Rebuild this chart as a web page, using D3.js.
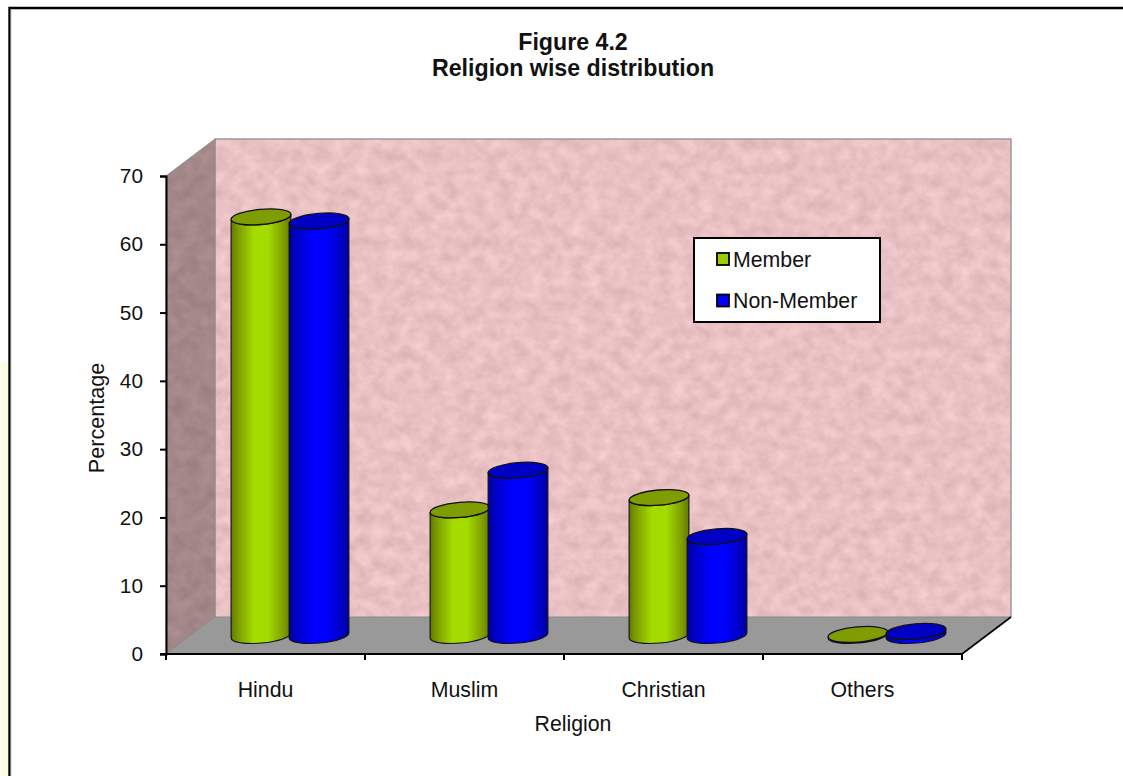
<!DOCTYPE html>
<html><head><meta charset="utf-8">
<script src="https://cdn.jsdelivr.net/npm/d3@7"></script>
<style>html,body{margin:0;padding:0;background:#fff;overflow:hidden}svg{display:block}text{font-family:"Liberation Sans",Arial,sans-serif;fill:#111}</style>
</head><body><svg id="c" width="1123" height="776"></svg>
<script>
const categories = ["Hindu","Muslim","Christian","Others"];
const seriesNames = ["Member","Non-Member"];
const member = [61.3,18.4,20.2,0.15];
const nonMember = [60.7,24.2,14.5,0.6];
const yTicks = [0,10,20,30,40,50,60,70];
const titleLines = ["Figure 4.2","Religion wise distribution"];
const xTitle = "Religion", yTitle = "Percentage";
const lightColors = ["#a4dc00","#0000ff"], darkColors = ["#7f9c00","#0000c4"], edgeColors=["#5f7a00","#00009a"];

const svg = d3.select("#c");
const defs = svg.append("defs");
const x0 = d3.scaleBand().domain(categories).range([166,962]);
const x1 = d3.scaleBand().domain(seriesNames).range([-58,58]);
const y = d3.scaleLinear().domain([0,70]).range([654,176]);
const depth = {dx:49, dy:-37};

// backgrounds
svg.append("rect").attr("x",1).attr("y",362).attr("width",7).attr("height",414).attr("fill","#fffde0");
svg.append("path").attr("d","M9.5,776V8H1123").attr("fill","none").attr("stroke","#000").attr("stroke-width",2.4);
svg.append("path").attr("d","M11,776V9.5H1123").attr("fill","none").attr("stroke","#bbb").attr("stroke-width",0.8);

// texture
const f = defs.append("filter").attr("id","tex").attr("x",0).attr("y",0).attr("width",1).attr("height",1).attr("color-interpolation-filters","sRGB");
f.append("feTurbulence").attr("type","fractalNoise").attr("baseFrequency","0.07 0.08").attr("numOctaves",5).attr("seed",7).attr("result","n");
f.append("feColorMatrix").attr("in","n").attr("type","matrix")
 .attr("values","0.15 0 0 0 0.84  0.15 0 0 0 0.68  0.15 0 0 0 0.69  0 0 0 0 1");
const lg = defs.append("linearGradient").attr("id","side").attr("x1",0).attr("x2",1).attr("y1",0).attr("y2",0);
lg.append("stop").attr("offset",0).attr("stop-color","#000").attr("stop-opacity",0.3);
lg.append("stop").attr("offset",1).attr("stop-color","#000").attr("stop-opacity",0.3);

const left = 166, right = 962;
const p = (a,b)=>`${a},${b}`;
// back wall
svg.append("rect").attr("x",left+depth.dx).attr("y",y(70)+depth.dy).attr("width",right-left).attr("height",y(0)-y(70))
  .attr("filter","url(#tex)");
svg.append("path").attr("d",`M${p(left+depth.dx,y(0)+depth.dy)}V${y(70)+depth.dy}H${right+depth.dx}V${y(0)+depth.dy}`)
  .attr("fill","none").attr("stroke","#9a9a9a").attr("stroke-width",1.5);
// side wall
const sidePts = `M${p(left,y(0))}L${p(left,y(70))}L${p(left+depth.dx,y(70)+depth.dy)}L${p(left+depth.dx,y(0)+depth.dy)}Z`;
svg.append("clipPath").attr("id","sc").append("path").attr("d",sidePts);
svg.append("g").attr("clip-path","url(#sc)").append("rect").attr("x",left-20).attr("y",y(70)+depth.dy).attr("width",depth.dx+20).attr("height",y(0)-y(70)-depth.dy)
  .attr("filter","url(#tex)");
svg.append("path").attr("d",sidePts).attr("fill","url(#side)").attr("stroke","#8f8f8f").attr("stroke-width",1);
// floor
svg.append("path").attr("d",`M${p(left,y(0))}L${p(left+depth.dx,y(0)+depth.dy)}H${right+depth.dx}L${p(right,y(0))}Z`).attr("fill","#999999").attr("stroke","#8a8a8a").attr("stroke-width",1);
svg.append("path").attr("d",`M${p(right,y(0))}L${p(right+depth.dx,y(0)+depth.dy)}`).attr("stroke","#000").attr("stroke-width",1.6);

// cylinder gradients
lightColors.forEach((c,i)=>{
  const g = defs.append("linearGradient").attr("id","cyl"+i);
  [[0,edgeColors[i]],[0.12,darkColors[i]],[0.38,c],[0.62,c],[0.88,darkColors[i]],[1,edgeColors[i]]]
    .forEach(([o,col])=>g.append("stop").attr("offset",o).attr("stop-color",col));
});

// cylinders
const rx = 30, ry = 7.6, tilt = -5;
const tiltRad = tilt*Math.PI/180;
const ex = rx*Math.cos(tiltRad), ey = rx*Math.sin(tiltRad);
const series = [member,nonMember];
categories.forEach((cat,ci)=>{
  series.forEach((vals,si)=>{
    const v = vals[ci];
    const cx = x0(cat)+x0.bandwidth()/2+depth.dx/2+x1(seriesNames[si])+x1.bandwidth()/2;
    const base = y(0)+depth.dy/2, top = y(v)+depth.dy/2;
    const g = svg.append("g");
    g.append("path")
     .attr("d",`M${p(cx-ex,top-ey)}L${p(cx-ex,base-ey)}A${rx},${ry} ${tilt} 0 0 ${p(cx+ex,base+ey)}L${p(cx+ex,top+ey)}A${rx},${ry} ${tilt} 0 1 ${p(cx-ex,top-ey)}Z`)
     .attr("fill",`url(#cyl${si})`).attr("stroke","#111").attr("stroke-width",1.1).attr("stroke-linejoin","round");
    g.append("ellipse").attr("cx",cx).attr("cy",top).attr("rx",rx).attr("ry",ry)
     .attr("transform",`rotate(${tilt} ${cx} ${top})`)
     .attr("fill",darkColors[si]).attr("stroke","#111").attr("stroke-width",1.3);
  });
});

// axes
const yAxis = svg.append("g").attr("transform",`translate(${left},0)`).call(d3.axisLeft(y).tickValues(yTicks).tickSize(6).tickPadding(17).tickFormat(d3.format("d")));
const xTickVals = x0.domain().map(d=>x0(d)).concat([right]);
const xg = svg.append("g");
xg.append("line").attr("x1",left-6).attr("x2",right).attr("y1",y(0)).attr("y2",y(0)).attr("stroke","#000").attr("stroke-width",2);
xg.selectAll(".t").data(xTickVals).join("line").attr("x1",d=>d).attr("x2",d=>d).attr("y1",y(0)).attr("y2",y(0)+6).attr("stroke","#000").attr("stroke-width",2);
xg.selectAll(".l").data(categories).join("text").attr("x",d=>x0(d)+x0.bandwidth()/2).attr("y",697).attr("text-anchor","middle").attr("font-size",21.3).text(d=>d);
yAxis.selectAll(".domain,.tick line").attr("stroke","#000").attr("stroke-width",2);
yAxis.selectAll("text").attr("font-size",20.8).attr("fill","#111");

// titles
svg.selectAll(".title").data(titleLines).join("text").attr("class","title").attr("x",573).attr("y",(d,i)=>50+i*26)
  .attr("text-anchor","middle").attr("font-size",23.2).attr("font-weight","bold").text(d=>d);
svg.append("text").attr("x",573).attr("y",731).attr("text-anchor","middle").attr("font-size",21.3).text(xTitle);
svg.append("text").attr("transform","translate(104,418) rotate(-90)").attr("text-anchor","middle").attr("font-size",21.6).text(yTitle);

// legend
const lgX=694, lgY=238;
svg.append("rect").attr("x",lgX).attr("y",lgY).attr("width",186).attr("height",84).attr("fill","#fff").attr("stroke","#000").attr("stroke-width",2);
seriesNames.forEach((n,i)=>{
  const yy = lgY+21+i*41.5;
  svg.append("rect").attr("x",717).attr("y",yy-6).attr("width",12).attr("height",12).attr("fill",lightColors[i]==="#a4dc00"?"#9ccc00":lightColors[i]).attr("stroke","#000").attr("stroke-width",1.8);
  svg.append("text").attr("x",733).attr("y",yy+7.5).attr("font-size",21.3).text(n);
});
</script></body></html>
